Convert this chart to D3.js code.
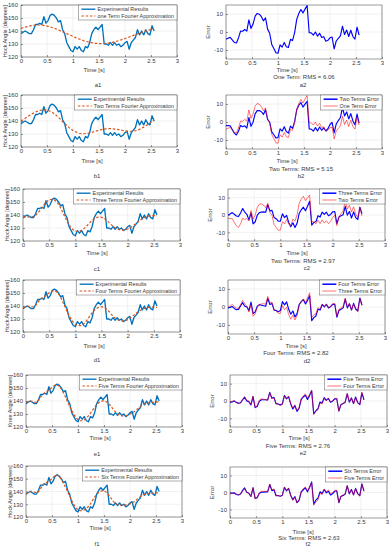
<!DOCTYPE html>
<html>
<head>
<meta charset="utf-8">
<script src="https://cdn.jsdelivr.net/npm/d3@7/dist/d3.min.js"></script>
<style>
  body { margin: 0; background: #fff; }
  svg { display: block; font-family: "Liberation Sans", Arial, sans-serif; }
</style>
</head>
<body>
<svg id="fig" width="392" height="550"></svg>
<script>
// ---- data ----
const time = [0,0.04,0.08,0.12,0.16,0.2,0.24,0.28,0.32,0.36,0.4,0.44,0.48,0.52,0.56,0.6,0.64,0.68,0.72,0.76,
  0.8,0.84,0.88,0.92,0.96,1,1.04,1.08,1.12,1.16,1.2,1.24,1.28,1.32,1.36,1.4,1.44,1.48,1.52,1.56,
  1.6,1.64,1.68,1.72,1.76,1.8,1.84,1.88,1.92,1.96,2,2.04,2.08,2.12,2.16,2.2,2.24,2.28,2.32,2.36,
  2.4,2.44,2.48,2.52,2.56];

const experimental = [138,139,140,139,138,138,141,145,145,146,145,151,146,148,152,153,152,150,147,148,
  141,138,131,128,125,124,128,126,128,125,124,128,127,131,138,141,143,141,143,145,
  130,130,129,131,129,131,129,130,128,129,131,132,126,131,133,135,141,137,140,137,
  141,138,137,144,140];

const fit1 = [142.0,142.5,143.0,143.4,143.8,144.1,144.3,144.5,144.6,144.6,144.5,144.3,144.0,143.6,143.2,142.7,142.1,141.5,140.8,140.1,
  139.4,138.7,138.0,137.2,136.5,135.8,135.1,134.4,133.8,133.2,132.6,132.1,131.7,131.3,131.0,130.7,130.5,130.4,130.3,130.3,
  130.4,130.5,130.7,131.0,131.3,131.7,132.1,132.6,133.1,133.6,134.2,134.8,135.4,136.0,136.6,137.2,137.8,138.4,138.9,139.5,
  140.0,140.5,140.9,141.3,141.7];
const fit2 = [140.0,141.0,142.1,143.2,144.2,145.2,146.1,146.9,147.6,148.1,148.4,148.5,148.4,148.1,147.5,146.7,145.6,144.3,142.8,141.2,
  139.6,138.0,136.5,135.1,133.8,132.7,131.8,131.1,130.6,130.3,130.2,130.3,130.5,130.8,131.2,131.7,132.2,132.7,133.1,133.5,
  133.8,134.0,134.1,134.1,134.0,133.8,133.6,133.3,133.0,132.7,132.4,132.2,132.1,132.1,132.2,132.5,133.0,133.6,134.4,135.3,
  136.3,137.4,138.5,139.6,140.6];
const fit3 = [138.0,138.4,138.6,138.6,138.6,138.9,139.8,141.3,143.3,145.6,147.8,149.7,151.1,151.9,152.1,151.6,150.3,148.2,145.4,142.1,
  138.6,135.3,132.4,130.1,128.5,127.6,127.3,127.5,128.2,129.3,130.8,132.5,134.2,135.8,137.1,138.0,138.5,138.5,138.0,137.1,
  135.8,134.3,132.8,131.4,130.2,129.3,128.7,128.4,128.4,128.7,129.2,130.0,131.0,132.2,133.5,134.8,136.0,137.1,138.0,138.7,
  139.2,139.5,139.6,139.5,139.3];
const fit4 = [138.5,139.2,139.7,139.8,139.5,139.3,140.4,142.6,144.6,145.9,147.0,148.3,149.6,150.7,151.5,151.7,151.0,149.3,146.6,143.2,
  139.6,136.0,132.7,129.9,127.6,126.0,125.0,124.8,125.2,126.3,128.0,130.2,132.5,134.7,136.6,138.0,138.9,139.3,139.3,138.8,
  137.6,135.9,134.0,132.2,130.7,129.6,128.9,128.5,128.5,128.8,129.5,130.5,131.7,133.0,134.3,135.5,136.6,137.5,138.2,138.7,
  139.0,139.1,139.1,139.0,138.9];
const fit5 = [138.8,139.6,140.0,139.8,139.2,139.0,140.3,142.8,145.0,146.4,147.3,148.4,149.8,151.2,152.2,152.3,151.3,149.3,146.4,143.0,
  139.4,135.9,132.6,129.7,127.3,125.6,124.8,124.8,125.5,126.8,128.6,130.7,133.0,135.2,137.2,138.7,139.7,140.1,139.9,139.0,
  137.5,135.6,133.5,131.6,130.1,129.1,128.6,128.5,128.7,129.1,129.8,130.7,131.8,133.1,134.5,135.8,136.9,137.7,138.2,138.5,
  138.7,138.9,139.1,139.3,139.4];
const fit6 = [138.3,139.4,140.2,140.2,139.5,138.9,139.8,142.3,144.9,146.5,147.3,148.1,149.4,151.0,152.4,152.8,151.8,149.6,146.6,143.3,
  139.9,136.4,132.9,129.8,127.2,125.6,125.0,125.1,125.6,126.6,128.2,130.4,133.0,135.6,137.8,139.4,140.3,140.6,140.1,138.8,
  136.8,134.5,132.3,130.6,129.6,129.2,129.2,129.3,129.5,129.8,130.3,131.0,132.0,133.3,134.7,136.0,137.1,137.8,138.2,138.4,
  138.6,138.7,138.8,138.9,139.0];

const fitNames = ["one Term Fourier Approximation", "Two Terms Fourier Approximation", "Three Terms Fourier Approximation",
  "Four Terms Fourier Approximation", "Five Terms Fourier Approximation", "Six Terms Fourier Approximation"];
const errorNames = ["One Term Error", "Two Terms Error", "Three Terms Error", "Four Terms Error", "Five Terms Error", "Six Terms Error"];
const rmsLabels = ["One Term: RMS = 6.06", "Two Terms: RMS = 5.15", "Two Terms: RMS = 2.97",
  "Four Terms: RMS = 2.82", "Five Terms: RMS = 2.76", "Six Terms: RMS = 2.63"];
const angleLabels = ["Hock Angle [degrees]", "Hock Angle [degrees]", "Hock Angle [degrees]",
  "Hock Angle [degrees]", "Knee Angle [degrees]", "Hock Angle [degrees]"];
const captionsLeft = ["a1", "b1", "c1", "d1", "e1", "f1"];
const captionsRight = ["a2", "b2", "c2", "d2", "e2", "f2"];
const xTicks = [0, 0.5, 1, 1.5, 2, 2.5, 3];
const angleTicks = [120, 130, 140, 150, 160];
const errorTicks = [-10, 0, 10];

const fits = [fit1, fit2, fit3, fit4, fit5, fit6];
// error of each fit = experimental - approximation (what the right column plots)
const errors = fits.map((f) => experimental.map((v, i) => v - f[i]));

// ---- layout (px, measured on the 392x550 figure) ----
const layout = [
  { L: { x0: 21, x1: 177, y0: 5, y1: 57 },    R: { x0: 226, x1: 382, y0: 5, y1: 59 },    lTime: [94, 70],  lCap: [98, 85],  rTime: [287, 70],  rRms: [304, 77],  rCap: [303, 85] },
  { L: { x0: 21, x1: 177, y0: 95, y1: 147 },  R: { x0: 226, x1: 382, y0: 95, y1: 149 },  lTime: [92, 161], lCap: [97, 176], rTime: [287, 161], rRms: [301, 169], rCap: [301, 176] },
  { L: { x0: 23, x1: 180, y0: 189, y1: 241 }, R: { x0: 228, x1: 385, y0: 189, y1: 241 }, lTime: [97, 253], lCap: [97, 269], rTime: [297, 253], rRms: [303, 261], rCap: [307, 268] },
  { L: { x0: 23, x1: 180, y0: 280, y1: 332 }, R: { x0: 228, x1: 385, y0: 280, y1: 334 }, lTime: [94, 346], lCap: [97, 360], rTime: [296, 346], rRms: [296, 353], rCap: [307, 361] },
  { L: { x0: 26, x1: 182, y0: 375, y1: 427 }, R: { x0: 230, x1: 387, y0: 375, y1: 427 }, lTime: [100, 438], lCap: [97, 454], rTime: [299, 438], rRms: [298, 446], rCap: [303, 453] },
  { L: { x0: 26, x1: 182, y0: 466, y1: 517 }, R: { x0: 230, x1: 387, y0: 467, y1: 518 }, lTime: [100, 528], lCap: [97, 544], rTime: [303, 532], rRms: [309, 538], rCap: [308, 544] },
];

const INK = "#3a3a3a";
const BLUE = "#0072BD", ORANGE = "#D95319";
const svg = d3.select("#fig");
let clipN = 0;

// ---- helpers ----
function label(text, x, y, size, opts = {}) {
  const t = svg.append("text").attr("x", x).attr("y", y).attr("font-size", size).attr("fill", INK)
    .attr("text-anchor", "middle").attr("dominant-baseline", "central").text(text);
  if (opts.rotate) t.attr("transform", `rotate(-90,${x},${y})`);
  return t;
}

function drawPanel(box, yDomain, yTicks, series, legendItems) {
  const x = d3.scaleLinear().domain([0, 3]).range([box.x0, box.x1]);
  const y = d3.scaleLinear().domain(yDomain).range([box.y1, box.y0]);
  const g = svg.append("g");

  // grid
  g.append("g").selectAll("line").data(xTicks).join("line")
    .attr("x1", (d) => x(d)).attr("x2", (d) => x(d)).attr("y1", box.y0).attr("y2", box.y1);
  g.append("g").selectAll("line").data(yTicks).join("line")
    .attr("x1", box.x0).attr("x2", box.x1).attr("y1", (d) => y(d)).attr("y2", (d) => y(d));
  g.selectAll("g line").attr("stroke", "#e2e2e2").attr("stroke-width", 0.5);

  // axes: ticks point inward, matlab style
  const ax = g.append("g").attr("transform", `translate(0,${box.y1})`)
    .call(d3.axisBottom(x).tickValues(xTicks).tickFormat((d) => String(d)).tickSizeInner(-2).tickSizeOuter(0).tickPadding(2));
  const ay = g.append("g").attr("transform", `translate(${box.x0},0)`)
    .call(d3.axisLeft(y).tickValues(yTicks).tickFormat((d) => String(d)).tickSizeInner(-2).tickSizeOuter(0).tickPadding(3));
  for (const a of [ax, ay]) {
    a.attr("font-family", null).attr("font-size", 6);
    a.select(".domain").remove();
    a.selectAll("line").attr("stroke", INK).attr("stroke-width", 0.5);
    a.selectAll("text").attr("fill", INK);
  }

  // data lines, clipped to the box
  const id = "clip" + clipN++;
  svg.append("clipPath").attr("id", id).append("rect")
    .attr("x", box.x0).attr("y", box.y0).attr("width", box.x1 - box.x0).attr("height", box.y1 - box.y0);
  const line = d3.line().x((d, i) => x(time[i])).y((d) => y(d));
  for (const s of series) {
    g.append("path").datum(s.values).attr("d", line).attr("fill", "none")
      .attr("stroke", s.color).attr("stroke-width", s.width).attr("stroke-opacity", s.opacity ?? 1)
      .attr("stroke-dasharray", s.dash || null).attr("stroke-linejoin", "round").attr("clip-path", `url(#${id})`);
  }

  // box
  g.append("rect").attr("x", box.x0).attr("y", box.y0).attr("width", box.x1 - box.x0).attr("height", box.y1 - box.y0)
    .attr("fill", "none").attr("stroke", INK).attr("stroke-width", 0.5);

  if (legendItems) drawLegend(g, box, legendItems);
}

function drawLegend(g, box, items) {
  const lg = g.append("g");
  const rect = lg.append("rect").attr("fill", "#fff").attr("stroke", INK).attr("stroke-width", 0.4);
  const texts = items.map((it) => lg.append("text").attr("font-size", 5.4).attr("fill", INK)
    .attr("dominant-baseline", "central").text(it.name));
  const w = 20 + d3.max(texts, (t) => t.node().getComputedTextLength()) + 2;
  const lx = box.x1 - w, ly = box.y0;
  rect.attr("x", lx).attr("y", ly).attr("width", w).attr("height", 15);
  items.forEach((it, i) => {
    const cy = ly + 4.2 + i * 6.8;
    lg.append("line").attr("x1", lx + 3).attr("x2", lx + 17).attr("y1", cy).attr("y2", cy)
      .attr("stroke", it.color).attr("stroke-width", it.width).attr("stroke-opacity", it.opacity ?? 1)
      .attr("stroke-dasharray", it.dash || null);
    texts[i].attr("x", lx + 19).attr("y", cy);
  });
}

// ---- draw the 6 x 2 grid ----
const redErr = { color: "#ff0000", width: 1.0, opacity: 0.55 };
const blueErr = { color: "#0000ff", width: 1.15 };

layout.forEach((L, k) => {
  // left: experimental vs fourier approximation
  const exp = { values: experimental, name: "Experimental Results", color: BLUE, width: 1.35 };
  const fit = { values: fits[k], name: fitNames[k], color: ORANGE, width: 1.2, dash: "2.5,1.8" };
  drawPanel(L.L, [120, 160], angleTicks, [exp, fit], [exp, fit]);
  label(angleLabels[k], L.L.x0 - 16, (L.L.y0 + L.L.y1) / 2, 5.5, { rotate: true });
  label("Time [s]", L.lTime[0], L.lTime[1], 6);
  label(captionsLeft[k], L.lCap[0], L.lCap[1], 6);

  // right: error of this fit, overlaid with the previous one
  const cur = { ...blueErr, values: errors[k], name: errorNames[k] };
  if (k === 0) {
    drawPanel(L.R, [-15, 15], errorTicks, [cur], null);
  } else {
    const prev = { ...redErr, values: errors[k - 1], name: errorNames[k - 1] };
    drawPanel(L.R, [-15, 15], errorTicks, [cur, prev], [{ ...cur, width: 1.5 }, prev]);
  }
  label("Error", L.R.x0 - 18, (L.R.y0 + L.R.y1) / 2, 6, { rotate: true });
  label("Time [s]", L.rTime[0], L.rTime[1], 6);
  label(rmsLabels[k], L.rRms[0], L.rRms[1], 6);
  label(captionsRight[k], L.rCap[0], L.rCap[1], 6);
});
</script>
</body>
</html>
